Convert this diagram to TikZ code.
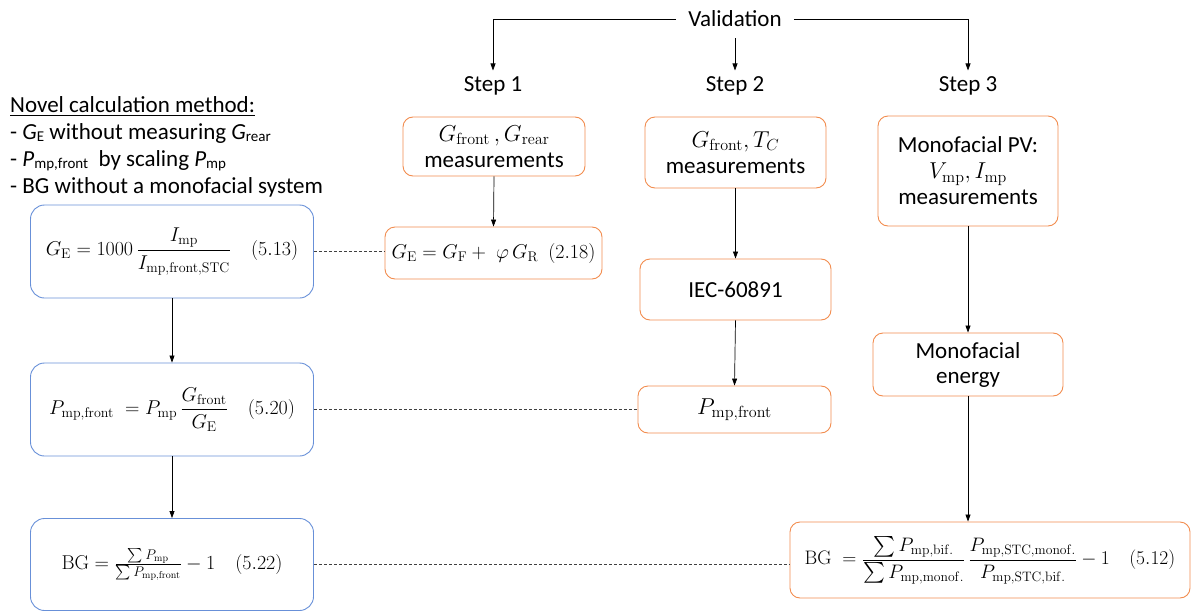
\documentclass[tikz,border=0pt]{standalone}
\usepackage{fix-cm}
\usepackage{amsmath}
\usepackage[no-math]{fontspec}
\setmainfont{Carlito}
\usetikzlibrary{arrows.meta,calc}
\definecolor{orng}{HTML}{F28C4E}
\definecolor{blu}{HTML}{6890D8}
\newcommand\tfs{\fontsize{23}{28}\selectfont}
\newcommand\efs{\fontsize{20}{24}\selectfont}
\newcommand\sfs{\fontsize{15}{18}\selectfont}
\newcommand\lowsub[1]{\raisebox{-2pt}{\sfs #1}}
\begin{document}
\begin{tikzpicture}[x=1pt,y=-1pt,
  obox/.style={draw=orng, line width=0.9pt, rounded corners=10pt, align=center, inner sep=0pt, font=\tfs},
  bbox/.style={draw=blu, line width=0.9pt, rounded corners=14pt, align=center, inner sep=0pt, font=\efs, minimum width=283, minimum height=93},
  lbl/.style={font=\tfs, inner sep=2pt},
  arr/.style={-{Triangle[length=7pt,width=5pt]}, line width=0.7pt},
  dline/.style={dash pattern=on 3pt off 2pt, line width=0.7pt, black!75}]
\useasboundingbox (0,0) rectangle (1192,613);

% top
\node[font=\tfs, inner xsep=12pt, inner ysep=11pt] (val) at (735,19) {Validation};
\node[lbl] (s1) at (493,86) {Step 1};
\node[lbl] (s2) at (735,86) {Step 2};
\node[lbl] (s3) at (968,86) {Step 3};
\draw[arr, shorten >=4pt] (val.west) -| (s1.north);
\draw[arr, shorten >=4pt] (val.east) -| (s3.north);
\draw[arr, shorten >=4pt] (val.south) -- (s2.north);

% step 1 column
\node[obox, minimum width=182, minimum height=59] (s1box) at (494,146.5)
  {$G_{\mathrm{front}}\,,G_{\mathrm{rear}}$\\[-2pt]measurements};
\node[obox, font=\efs, minimum width=217, minimum height=52] (e218) at (493.5,253)
  {$G_{\mathrm{E}} = G_{\mathrm{F}} +\;\varphi\,G_{\mathrm{R}}\enspace(2.18)$};
\draw[arr] (s1box.south) -- (e218.north);

% step 2 column
\node[obox, minimum width=181, minimum height=71] (s2box) at (735.5,152.5)
  {$G_{\mathrm{front}}, T_C$\\[-2pt]measurements};
\node[obox, minimum width=191, minimum height=61] (iec) at (735.5,289.5) {IEC-60891};
\node[obox, minimum width=193, minimum height=47] (pfront) at (734.5,409.5) {$P_{\mathrm{mp,front}}$};
\draw[arr] (s2box.south) -- (iec.north);
\draw[arr] (iec.south) -- (pfront.north);

% step 3 column
\node[obox, minimum width=180, minimum height=110] (s3box) at (968,171)
  {Monofacial PV:\\[-2pt]$V_{\mathrm{mp}}, I_{\mathrm{mp}}$\\[-2pt]measurements};
\node[obox, minimum width=190, minimum height=63] (energy) at (968,364.5) {Monofacial\\[-3pt]energy};
\node[obox, font=\fontsize{19.5}{24}\selectfont, minimum width=400, minimum height=76] (bg512) at (990,560)
  {$\mathrm{BG}\;=\dfrac{\sum P_{\mathrm{mp,bif.}}}{\sum P_{\mathrm{mp,monof.}}}\,\dfrac{P_{\mathrm{mp,STC,monof.}}}{P_{\mathrm{mp,STC,bif.}}}-1\quad(5.12)$};
\draw[arr] (s3box.south) -- (energy.north);
\draw[arr] (energy.south) -- (energy.south |- bg512.north);

% left column
\node[lbl, anchor=base west] (t0) at (8,112) {\underline{Novel calculation method:}};
\node[lbl, anchor=base west] (t1) at (8,139) {- \textit{G}\lowsub{E} without measuring \textit{G}\lowsub{rear}};
\node[lbl, anchor=base west] (t2) at (8,166) {- \textit{P}\lowsub{mp,front}\ \ by scaling \textit{P}\lowsub{mp}};
\node[lbl, anchor=base west] (t3) at (8,193) {- BG without a monofacial system};

\node[bbox] (b1) at (172,251.5)
  {$G_{\mathrm{E}} = 1000\,\dfrac{I_{\mathrm{mp}}}{I_{\mathrm{mp,front,STC}}}\quad(5.13)$};
\node[bbox] (b2) at (172,409.5)
  {$P_{\mathrm{mp,front}}\;= P_{\mathrm{mp}}\,\dfrac{G_{\mathrm{front}}}{G_{\mathrm{E}}}\quad(5.20)$};
\node[bbox, minimum height=92] (b3) at (172,564.5)
  {$\mathrm{BG} = \frac{\sum P_{\mathrm{mp}}}{\sum P_{\mathrm{mp,front}}} - 1\quad(5.22)$};
\draw[arr] (b1.south) -- (b2.north);
\draw[arr] (b2.south) -- (b3.north);

% dashed links
\draw[dline] (b1.east) -- (b1.east -| e218.west);
\draw[dline] (b2.east) -- (b2.east -| pfront.west);
\draw[dline] (b3.east) -- (b3.east -| bg512.west);
\end{tikzpicture}
\end{document}
